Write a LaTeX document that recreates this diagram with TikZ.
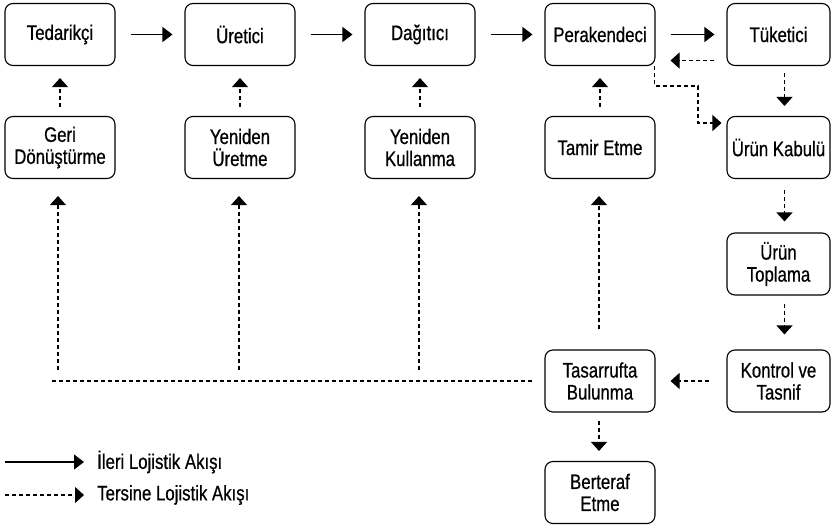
\documentclass[tikz,border=0pt]{standalone}
\usepackage{fontspec}
\setmainfont{Liberation Sans}[FakeStretch=0.8, FakeBold=0.6]
\usetikzlibrary{arrows.meta}
\newcommand{\boxfont}{\fontsize{21}{22}\selectfont}
\begin{document}
\begin{tikzpicture}[x=1pt, y=-1pt, font=\boxfont,
  box/.style={draw, rounded corners=8pt, line width=1.1pt, minimum width=110pt, minimum height=62pt, align=center, inner sep=2pt},
  rbox/.style={box, minimum width=103pt},
  fwd/.style={line width=1.3pt, -{Triangle[length=10pt,width=15pt]}},
  rev/.style={line width=1.1pt, dash pattern=on 4pt off 3pt, -{Triangle[length=9pt,width=16pt]}},
  revline/.style={line width=1.1pt, dash pattern=on 4pt off 3pt}]
  \useasboundingbox (0,0) rectangle (831,527);
  \node[box] (ted) at (60,34.5) {Tedarikçi};
  \node[box] (ure) at (240,34.5) {Üretici};
  \node[box] (dag) at (420,34.5) {Dağıtıcı};
  \node[box] (per) at (600,34.5) {Perakendeci};
  \node[rbox] (tuk) at (778.5,34.5) {Tüketici};
  \node[box] (geri) at (60,147.5) {Geri\\Dönüştürme};
  \node[box] (yur) at (240,147.5) {Yeniden\\Üretme};
  \node[box] (yku) at (420,147.5) {Yeniden\\Kullanma};
  \node[box] (tam) at (600,147.5) {Tamir Etme};
  \node[rbox] (kab) at (778.5,147.5) {Ürün Kabulü};
  \node[rbox] (top) at (778.5,264) {Ürün\\Toplama};
  \node[rbox] (kon) at (778.5,381) {Kontrol ve\\Tasnif};
  \node[box] (tas) at (600,381) {Tasarrufta\\Bulunma};
  \node[box] (ber) at (600,492.5) {Berteraf\\Etme};
  \draw[fwd, shorten <=15pt, shorten >=12pt] (ted) -- (ure);
  \draw[fwd, shorten <=15pt, shorten >=12pt] (ure) -- (dag);
  \draw[fwd, shorten <=15pt, shorten >=12pt] (dag) -- (per);
  \draw[fwd, shorten <=15pt, shorten >=12pt] (per) -- (tuk);
  \draw[rev, shorten <=9pt, shorten >=12pt] (geri) -- (ted);
  \draw[rev, shorten <=9pt, shorten >=12pt] (yur) -- (ure);
  \draw[rev, shorten <=9pt, shorten >=12pt] (yku) -- (dag);
  \draw[rev, shorten <=9pt, shorten >=12pt] (tam) -- (per);
  \draw[rev, shorten <=12pt, shorten >=15pt] ([yshift=-26pt]tuk.west) -- ([yshift=-26pt]per.east);
  \draw[rev, shorten >=5pt] ([xshift=-1pt]per.south east) |- (698,86) |- ([yshift=24.5pt]kab.west);
  \draw[rev, shorten <=7pt, shorten >=10pt] ([xshift=6pt]tuk.south) -- ([xshift=6pt]kab.north);
  \draw[rev, shorten <=11pt, shorten >=11pt] ([xshift=6pt]kab.south) -- ([xshift=6pt]top.north);
  \draw[rev, shorten <=8pt, shorten >=15pt] ([xshift=6pt]top.south) -- ([xshift=6pt]kon.north);
  \draw[rev, shorten <=17pt, shorten >=15pt] (kon) -- (tas);
  \draw[rev, shorten <=8pt, shorten >=10pt] ([xshift=-1pt]tas.south) -- ([xshift=-1pt]ber.north);
  \draw[rev, shorten <=20pt, shorten >=17pt] ([xshift=-1pt]tas.north) -- ([xshift=-1pt]tam.south);
  \coordinate (hl) at (52,381);
  \draw[revline, shorten >=12pt] (hl) -- (tas.west);
  \coordinate (r1) at (58,370);
  \coordinate (r2) at (239,370);
  \coordinate (r3) at (419,370);
  \draw[rev, shorten >=17pt] (r1) -- (r1 |- geri.south);
  \draw[rev, shorten >=17pt] (r2) -- (r2 |- yur.south);
  \draw[rev, shorten >=17pt] (r3) -- (r3 |- yku.south);
  \node[anchor=west, inner sep=0pt] (lgf) at (97,462) {İleri Lojistik Akışı};
  \node[anchor=west, inner sep=0pt] (lgr) at (97,495) {Tersine Lojistik Akışı};
  \coordinate (lfs) at (5,462);
  \coordinate (lrs) at (5,495);
  \draw[fwd, shorten >=13pt] (lfs) -- (lgf.west);
  \draw[rev, shorten >=13pt] (lrs) -- (lgr.west);
\end{tikzpicture}
\end{document}
